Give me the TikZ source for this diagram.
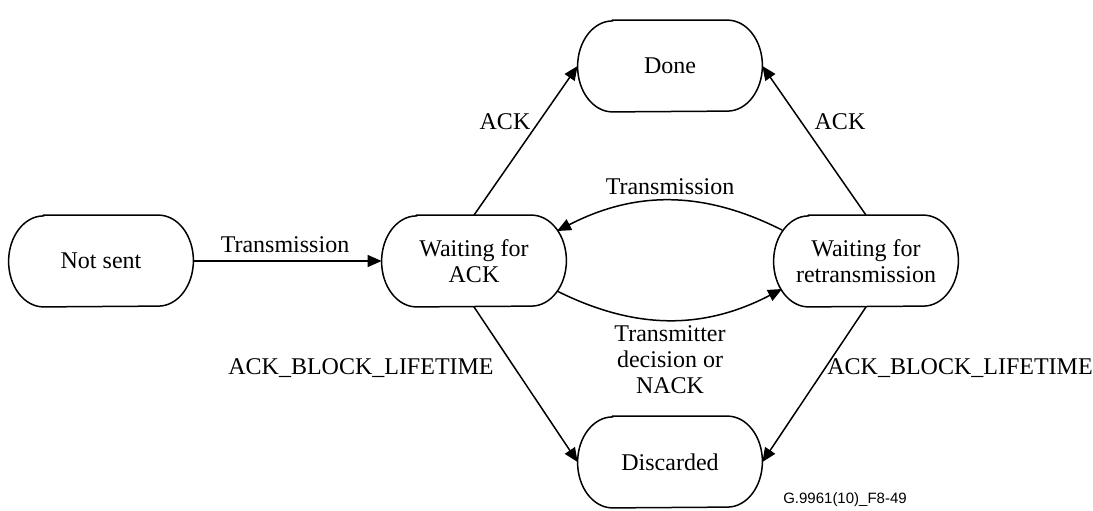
\documentclass[tikz,border=0pt]{standalone}
\usepackage{fontspec}
\setmainfont{Liberation Serif}
\newfontfamily\figsans{Liberation Sans}
\usetikzlibrary{arrows.meta}
\begin{document}
\begin{tikzpicture}[x=0.5pt,y=-0.5pt,
  state/.style={rectangle,minimum width=92pt,minimum height=45.5pt,align=center,inner sep=1pt,font=\fontsize{12}{13}\selectfont},
  boxline/.style={line width=0.75pt},
  lbl/.style={align=center,inner sep=0pt,font=\fontsize{12}{13}\selectfont},
  arr/.style={line width=0.75pt,-{Triangle[length=7pt,width=6pt]}}]
\useasboundingbox (0,0) rectangle (1093,510);
\node[state] (ns) at (101,261) {Not sent};
\node[state] (wa) at (474,261) {Waiting for\\ACK};
\node[state] (dn) at (670,66) {Done};
\node[state] (wr) at (866,261) {Waiting for\\retransmission};
\node[state] (dc) at (670,462) {Discarded};
\foreach \n in {ns,wa,dn,wr,dc}
  \draw[boxline] ([xshift=17.5pt]\n.north west) -- ([xshift=-17.5pt]\n.north east)
    arc[start angle=90,end angle=-90,x radius=17.5pt,y radius=22.75pt]
    -- ([xshift=17.5pt]\n.south west)
    arc[start angle=270,end angle=90,x radius=17.5pt,y radius=22.75pt] -- cycle;
\draw[arr] (ns) -- (wa);
\draw[arr] (wa.north) -- (dn.west);
\draw[arr] (wr.north) -- (dn.east);
\draw[arr] (wa.south) -- (dc.west);
\draw[arr] (wr.south) -- (dc.east);
\draw[arr] ([shift={(-84,-31)}]wr.center) to[bend right=27] ([shift={(83,-30)}]wa.center);
\draw[arr] ([shift={(83,30)}]wa.center) to[bend right=27] ([shift={(-84,28)}]wr.center);
\node[lbl] (l1) at (285,245) {Transmission};
\node[lbl] (l2) at (505,122) {ACK};
\node[lbl] (l3) at (840,122) {ACK};
\node[lbl] (l4) at (670,187) {Transmission};
\node[lbl] (l5) at (670,360) {Transmitter\\decision or\\NACK};
\node[lbl] (l6) at (361,368) {ACK\_BLOCK\_LIFETIME};
\node[lbl] (l7) at (960,368) {ACK\_BLOCK\_LIFETIME};
\node[inner sep=0pt,font=\figsans\fontsize{7.5}{8}\selectfont] (fig) at (845,500) {G.9961(10)\_F8-49};
\end{tikzpicture}
\end{document}
